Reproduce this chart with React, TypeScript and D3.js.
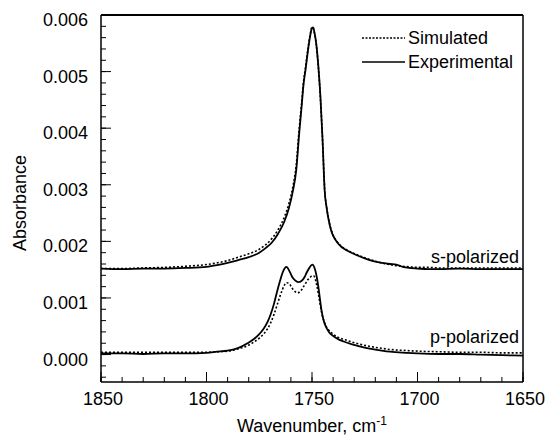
import React from "react";
import * as d3 from "d3";

const wnS = [1850, 1840, 1830, 1820, 1810, 1800, 1795, 1790, 1785, 1780, 1775, 1772, 1769, 1766, 1763, 1761, 1759, 1757.5, 1756, 1755, 1754, 1753, 1752, 1751, 1750, 1749.5, 1749, 1748, 1747, 1746, 1745, 1744, 1743, 1742, 1741, 1740, 1738, 1736, 1733, 1729, 1725, 1721, 1717, 1713, 1710, 1707, 1704, 1700, 1695, 1690, 1680, 1670, 1660, 1650];
const sExp = [0.00152, 0.00151, 0.00152, 0.00152, 0.00153, 0.00155, 0.00158, 0.00162, 0.00167, 0.00172, 0.0018, 0.00188, 0.00198, 0.00214, 0.00236, 0.00258, 0.0029, 0.00325, 0.00394, 0.00435, 0.00478, 0.00505, 0.00535, 0.0056, 0.00577, 0.00578, 0.00572, 0.0055, 0.0051, 0.00455, 0.0038, 0.0029, 0.00258, 0.00236, 0.0022, 0.0021, 0.00198, 0.0019, 0.00183, 0.00176, 0.0017, 0.00165, 0.00162, 0.0016, 0.00159, 0.00155, 0.00153, 0.00152, 0.00151, 0.00151, 0.00152, 0.00151, 0.00151, 0.00151];
const sSim = [0.00152, 0.00152, 0.00153, 0.00154, 0.00156, 0.00159, 0.00162, 0.00166, 0.00172, 0.00178, 0.00186, 0.00194, 0.00205, 0.00221, 0.00244, 0.00266, 0.00298, 0.00334, 0.00402, 0.0044, 0.00482, 0.0051, 0.00538, 0.00563, 0.00578, 0.00578, 0.00571, 0.00548, 0.00508, 0.00452, 0.00378, 0.00292, 0.00258, 0.00237, 0.00222, 0.00211, 0.00199, 0.00191, 0.00184, 0.00177, 0.00171, 0.00166, 0.00162, 0.00159, 0.00157, 0.00156, 0.00155, 0.00154, 0.00154, 0.00153, 0.00153, 0.00153, 0.00153, 0.00153];

const wnPExp = [1850, 1840, 1830, 1820, 1810, 1800, 1795, 1790, 1787, 1784, 1781, 1778, 1775, 1773, 1771, 1769.5, 1768, 1766.5, 1765, 1764, 1763, 1762.3, 1761.5, 1760.5, 1759.5, 1758, 1756.5, 1755, 1753.5, 1752.5, 1751.3, 1750.3, 1749.6, 1748.8, 1748, 1747, 1746.2, 1745.4, 1744.6, 1743.5, 1742, 1740, 1738, 1735, 1731, 1727, 1722, 1717, 1713, 1705, 1700, 1690, 1680, 1670, 1660, 1650];
const pExp = [0.00002, 0.00002, 0.00001, 0.00002, 0.00002, 0.00003, 0.00005, 0.00007, 0.00009, 0.00013, 0.00019, 0.00026, 0.00036, 0.00045, 0.00058, 0.00072, 0.0009, 0.00112, 0.00132, 0.00144, 0.00152, 0.00155, 0.00153, 0.00146, 0.00138, 0.00131, 0.00128, 0.0013, 0.00137, 0.00145, 0.00153, 0.00158, 0.00159, 0.00153, 0.00142, 0.0012, 0.00097, 0.00076, 0.00062, 0.0005, 0.0004, 0.00033, 0.00028, 0.00023, 0.00018, 0.00014, 0.0001, 0.00007, 0.00005, 0.00003, 0.00002, 0.00001, 0.00001, 0.0, -0.00001, -0.00002];

const wnPSim = [1850, 1840, 1830, 1820, 1810, 1800, 1795, 1790, 1787, 1784, 1781, 1778, 1775, 1773, 1771, 1769.5, 1768, 1766.5, 1765, 1764, 1763, 1762, 1761, 1760, 1759, 1758, 1757, 1756, 1755, 1754, 1753, 1752, 1751, 1750, 1749.2, 1748.5, 1747.8, 1747, 1746.2, 1745.4, 1744.5, 1743.5, 1742, 1740, 1738, 1735, 1731, 1727, 1722, 1717, 1713, 1705, 1700, 1690, 1680, 1670, 1660, 1650];
const pSim = [0.00004, 0.00004, 0.00004, 0.00004, 0.00004, 0.00004, 0.00005, 0.00006, 0.00008, 0.00011, 0.00015, 0.00021, 0.00029, 0.00036, 0.00046, 0.00057, 0.00071, 0.00088, 0.00105, 0.00115, 0.00123, 0.00127, 0.00126, 0.00121, 0.00115, 0.00111, 0.00109, 0.0011, 0.00114, 0.0012, 0.00126, 0.00132, 0.00136, 0.00139, 0.00139, 0.00134, 0.00123, 0.00108, 0.0009, 0.00074, 0.00061, 0.00051, 0.00043, 0.00036, 0.00031, 0.00027, 0.00022, 0.00018, 0.00014, 0.00011, 0.00009, 0.00007, 0.00006, 0.00005, 0.00004, 0.00004, 0.00003, 0.00003];

const xTicks = [1850, 1800, 1750, 1700, 1650];
const yTicks = [0, 0.001, 0.002, 0.003, 0.004, 0.005, 0.006];
const legendLabels = ["Simulated", "Experimental"];
const traceLabels = ["s-polarized", "p-polarized"];

const W = 546;
const H = 435;
const L = 101;
const R = 523;
const T = 15;
const B = 382;
const FONT = "'Liberation Sans', Arial, sans-serif";

export default function App() {
  const x = d3.scaleLinear().domain([1850, 1650]).range([L, R]);
  const y = d3.scaleLinear().domain([-0.000485, 0.006]).range([B, T]);
  const line = d3
    .line<[number, number]>()
    .x((d) => x(d[0]))
    .y((d) => y(d[1]))
    .curve(d3.curveMonotoneX);
  const pairs = (w: number[], v: number[]) => w.map((wi, i) => [wi, v[i]] as [number, number]);

  const xMinor = d3.range(1850, 1649, -10);
  const yMinor = d3.range(-0.0004, 0.00601, 0.0002);

  return (
    <svg width={W} height={H} style={{ position: "absolute", left: 0, top: 0, background: "#fff" }} fontFamily={FONT}>
      <rect x={0} y={0} width={W} height={H} fill="#fff" />
      <g fill="none" stroke="#000">
        <path d={line(pairs(wnS, sSim)) || ""} strokeWidth={1.6} strokeDasharray="2,2" />
        <path d={line(pairs(wnPSim, pSim)) || ""} strokeWidth={1.6} strokeDasharray="2,2" />
        <path d={line(pairs(wnS, sExp)) || ""} strokeWidth={1.8} />
        <path d={line(pairs(wnPExp, pExp)) || ""} strokeWidth={1.8} />
      </g>
      <g stroke="#000" fill="none">
        <line x1={L} y1={T} x2={R} y2={T} strokeWidth={2} />
        <line x1={R} y1={T} x2={R} y2={B} strokeWidth={1.5} />
        <line x1={L} y1={T} x2={L} y2={B} strokeWidth={1.5} />
        <line x1={L} y1={B} x2={R} y2={B} strokeWidth={1.5} />
      </g>
      <g stroke="#000" strokeWidth={1}>
        {xMinor.map((v) => (
          <line key={"xm" + v} x1={x(v)} x2={x(v)} y1={B} y2={B - 5} />
        ))}
        {xTicks.map((v) => (
          <line key={"xM" + v} x1={x(v)} x2={x(v)} y1={B} y2={B - 10} />
        ))}
        {yMinor.map((v, i) => (
          <line key={"ym" + i} x1={L} x2={L + 5} y1={y(v)} y2={y(v)} />
        ))}
        {yTicks.map((v) => (
          <line key={"yM" + v} x1={L} x2={L + 10} y1={y(v)} y2={y(v)} />
        ))}
      </g>
      <g fontSize={18} fill="#000">
        {xTicks.map((v) => (
          <text key={"xl" + v} x={x(v) + 2} y={405} textAnchor="middle">
            {v}
          </text>
        ))}
        {yTicks.map((v) => (
          <text key={"yl" + v} x={88} y={y(v) + 11} textAnchor="end">
            {d3.format(".3f")(v)}
          </text>
        ))}
        <text x={312} y={432} textAnchor="middle">
          Wavenumber, cm<tspan dy={-7} fontSize={12}>-1</tspan>
        </text>
        <text transform={`translate(26,203) rotate(-90)`} textAnchor="middle">
          Absorbance
        </text>
      </g>
      <g stroke="#000" fill="none">
        <line x1={362} x2={405} y1={38} y2={38} strokeWidth={1.4} strokeDasharray="2,1.5" />
        <line x1={362} x2={405} y1={62} y2={62} strokeWidth={1.6} />
      </g>
      <g fontSize={18} fill="#000">
        <text x={408} y={44}>{legendLabels[0]}</text>
        <text x={408} y={68}>{legendLabels[1]}</text>
        <text x={519} y={263} textAnchor="end">{traceLabels[0]}</text>
        <text x={519} y={343} textAnchor="end">{traceLabels[1]}</text>
      </g>
    </svg>
  );
}
